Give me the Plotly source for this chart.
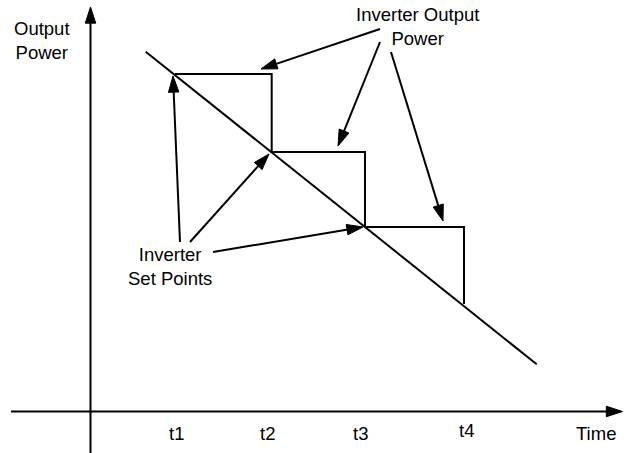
import plotly.graph_objects as go

# ---- data (arbitrary units: 1 unit of time / power) ----
set_times = [0.845, 1.812, 2.745, 3.735]          # t1..t4 set-point instants
set_powers = [3.375, 2.595, 1.845, 1.075]        # inverter set points (power)
ramp_time = [0.552, 4.462]                        # commanded ramp line
ramp_power = [3.598, 0.472]

tick_labels = ["t1", "t2", "t3", "t4"]
tick_label_x = [0.855, 1.765, 2.695, 3.755]
tick_label_y = [-0.215, -0.215, -0.215, -0.185]

# arrows: tail -> tip
setpoint_arrows_x = [[0.895, 0.825], [0.995, 1.785], [1.225, 2.725]]
setpoint_arrows_y = [[1.695, 3.355], [1.695, 2.575], [1.595, 1.845]]
output_arrows_x = [[2.895, 1.705], [2.895, 2.475], [3.005, 3.525]]
output_arrows_y = [[3.825, 3.425], [3.695, 2.655], [3.595, 1.905]]
axis_arrows_x = [[0.0, 0.0], [-0.795, 5.32]]
axis_arrows_y = [[-0.485, 4.045], [0.0, 0.0]]

FONT = "Arial, Liberation Sans, sans-serif"
LW = 2

fig = go.Figure()

# ramp line
fig.add_trace(go.Scatter(x=ramp_time, y=ramp_power, mode="lines",
                         line=dict(color="#000000", width=LW), hoverinfo="skip"))

# staircase inverter output
step_x, step_y = [], []
for i in range(len(set_times) - 1):
    step_x += [set_times[i], set_times[i + 1]]
    step_y += [set_powers[i], set_powers[i]]
step_x.append(set_times[-1])
step_y.append(set_powers[-1])
fig.add_trace(go.Scatter(x=step_x, y=step_y, mode="lines",
                         line=dict(color="#000000", width=LW), hoverinfo="skip"))

def add_arrow(xs, ys):
    fig.add_trace(go.Scatter(
        x=xs, y=ys, mode="lines+markers",
        line=dict(color="#000000", width=LW),
        marker=dict(symbol="arrow", size=[0, 17], angleref="previous",
                    color="#000000", opacity=1,
                    line=dict(width=1, color="#000000")),
        hoverinfo="skip", cliponaxis=False))

for xs, ys in zip(axis_arrows_x, axis_arrows_y):
    add_arrow(xs, ys)
for xs, ys in zip(setpoint_arrows_x, setpoint_arrows_y):
    add_arrow(xs, ys)
for xs, ys in zip(output_arrows_x, output_arrows_y):
    add_arrow(xs, ys)

annots = []
for lbl, x, y in zip(tick_labels, tick_label_x, tick_label_y):
    annots.append(dict(x=x, y=y, text=lbl, showarrow=False,
                       xanchor="center", yanchor="middle"))
annots.append(dict(x=5.055, y=-0.215, text="Time", showarrow=False,
                   xanchor="center", yanchor="middle"))
annots.append(dict(x=-0.485, y=3.715, text="Output<br>Power", showarrow=False,
                   xanchor="center", yanchor="middle", align="center"))
annots.append(dict(x=3.265, y=3.855, text="Inverter Output<br>Power", showarrow=False,
                   xanchor="center", yanchor="middle", align="center"))
annots.append(dict(x=0.795, y=1.45, text="Inverter<br>Set Points", showarrow=False,
                   xanchor="center", yanchor="middle", align="center"))

fig.update_layout(
    width=634, height=453,
    margin=dict(l=0, r=0, t=0, b=0),
    paper_bgcolor="white", plot_bgcolor="white",
    showlegend=False,
    font=dict(family=FONT, size=18.5, color="#000000"),
    annotations=annots,
    xaxis=dict(range=[-0.905, 5.435], visible=False, fixedrange=True),
    yaxis=dict(range=[-0.415, 4.115], visible=False, fixedrange=True),
)

fig.write_html("out.html",
               config={"displayModeBar": False, "staticPlot": True},
               post_script="document.body.style.margin='0';document.body.style.padding='0';")
